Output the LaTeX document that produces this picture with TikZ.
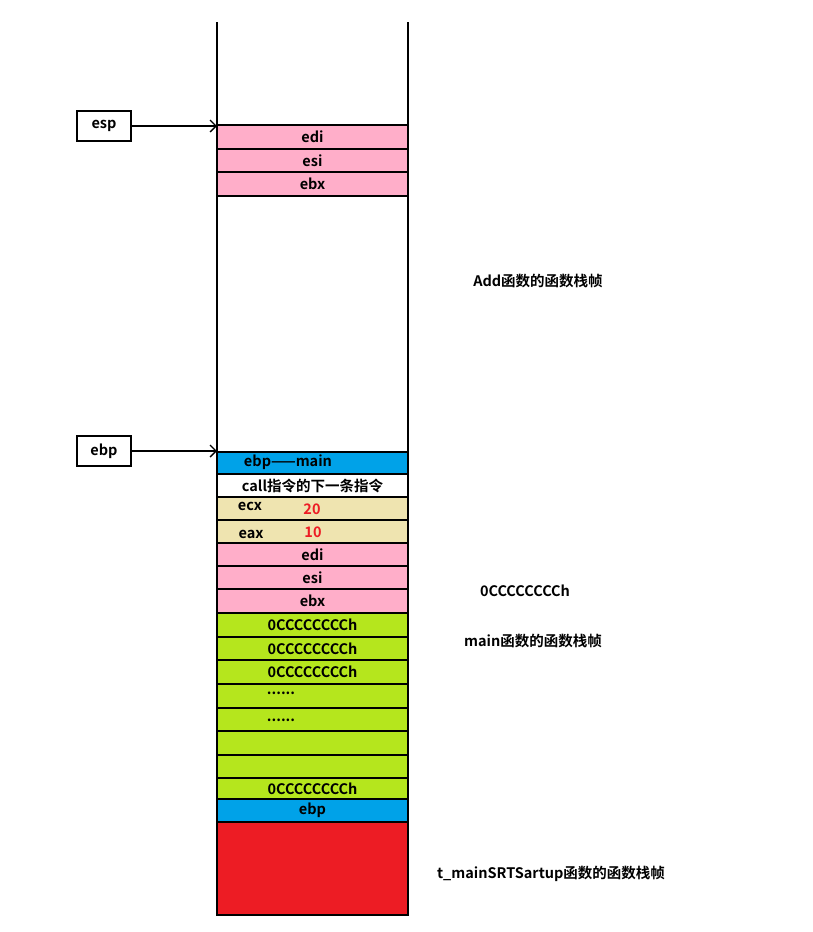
\documentclass[tikz,border=0pt]{standalone}
\usepackage{fontspec}
\setmainfont{Noto Sans CJK SC}[BoldFont={* Bold}]
\usetikzlibrary{arrows.meta}
\definecolor{regpink}{HTML}{FFAEC9}
\definecolor{regblue}{HTML}{00A2E8}
\definecolor{regtan}{HTML}{EFE4B0}
\definecolor{reggreen}{HTML}{B5E61D}
\definecolor{regred}{HTML}{ED1C24}
\newcommand{\slot}[5]{% name, top, bottom, colour, text
  \draw[slot, fill=#4] (217,-#2) rectangle (408,-#3);
  \node[lbl] (#1) at (312.5,{-(#2+#3)/2}) {#5};}
\begin{document}
\begin{tikzpicture}[x=1pt, y=1pt, font=\bfseries\fontsize{14.5}{16}\selectfont,
  slot/.style={draw=black, line width=1.4pt},
  lbl/.style={inner sep=0pt},
  tag/.style={draw=black, line width=1.4pt, minimum width=54pt, minimum height=30pt, inner sep=0pt},
  ptr/.style={-{Straight Barb[length=6pt, width=12pt]}, line width=1.4pt}]
	\useasboundingbox (0,0) rectangle (812,-932);

	% Add frame
	\slot{aedi}{125}{149}{regpink}{edi}
	\slot{aesi}{149}{172}{regpink}{esi}
	\slot{aebx}{172}{196}{regpink}{ebx}

	% main frame
	\draw[slot, fill=regblue] (217,-452) rectangle (408,-474);
	\node[lbl] (oldebp) at (288,-462) {ebp——main};
	\slot{ret}{474}{497}{white}{call指令的下一条指令}
	\draw[slot, fill=regtan] (217,-497) rectangle (408,-520);
	\node[lbl] (ecx) at (250,-506) {ecx};
	\node[lbl, text=regred] (vx) at (312,-509) {20};
	\draw[slot, fill=regtan] (217,-520) rectangle (408,-543);
	\node[lbl] (eax) at (251,-534) {eax};
	\node[lbl, text=regred] (va) at (313,-532) {10};
	\slot{medi}{543}{566}{regpink}{edi}
	\slot{mesi}{566}{589}{regpink}{esi}
	\slot{mebx}{589}{613}{regpink}{ebx}
	\slot{cc1}{613}{637}{reggreen}{0CCCCCCCCh}
	\slot{cc2}{637}{660}{reggreen}{0CCCCCCCCh}
	\slot{cc3}{660}{684}{reggreen}{0CCCCCCCCh}
	\draw[slot, fill=reggreen] (217,-684) rectangle (408,-708);
	\node[lbl] (dots1) at (281,-693) {......};
	\draw[slot, fill=reggreen] (217,-708) rectangle (408,-731);
	\node[lbl] (dots2) at (281,-720) {......};
	\slot{cc4}{731}{755}{reggreen}{}
	\slot{cc5}{755}{778}{reggreen}{}
	\slot{cc6}{778}{799}{reggreen}{0CCCCCCCCh}
	\slot{bebp}{799}{822}{regblue}{ebp}
	\slot{crt}{822}{915}{regred}{}

	% Stack walls
	\draw[line width=1.4pt] (217,-22) -- (217,-915);
	\draw[line width=1.4pt] (408,-22) -- (408,-915);

	% Pointers
	\node[tag] (esp) at (104,-126) {esp};
	\coordinate (esptip) at (217,-126);
	\draw[ptr] (esp.east) -- (esptip);
	\node[tag] (ebp) at (104,-451) {ebp};
	\coordinate (ebptip) at (217,-451);
	\draw[ptr] (ebp.east) -- (ebptip);

	% Frame captions
	\node[lbl] (addf) at (538,-281) {Add函数的函数栈帧};
	\node[lbl] (ccval) at (525,-591) {0CCCCCCCCh};
	\node[lbl] (mainf) at (533,-641) {main函数的函数栈帧};
	\node[lbl] (crtf) at (551,-874) {t\_mainSRTSartup函数的函数栈帧};
\end{tikzpicture}
\end{document}
